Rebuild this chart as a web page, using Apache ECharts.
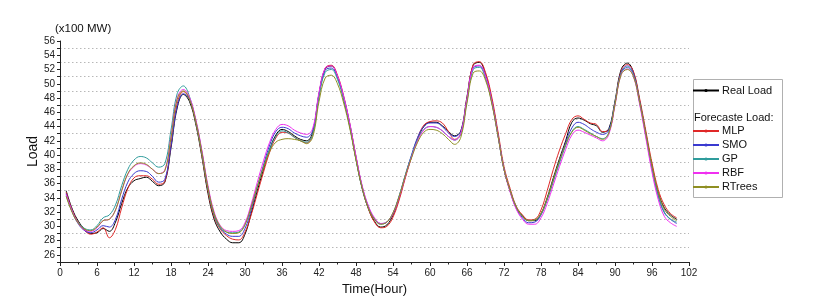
<!DOCTYPE html>
<html><head><meta charset="utf-8">
<script src="https://cdn.jsdelivr.net/npm/echarts@6/dist/echarts.min.js"></script>
<style>html,body{margin:0;padding:0;background:#fff}#c{width:813px;height:306px}</style>
</head><body><div id="c"></div>
<script>
const hours = Array.from({length: 100}, (_, i) => i + 1);
const xTicks = [0,6,12,18,24,30,36,42,48,54,60,66,72,78,84,90,96,102];
const yTicks = [26,28,30,32,34,36,38,40,42,44,46,48,50,52,54,56];

const realLoad = [35.0,32.4,30.7,29.6,29.0,29.1,29.7,29.3,30.6,33.2,35.4,36.4,36.7,36.9,36.3,35.7,36.2,41.0,46.6,48.5,
47.5,44.4,39.8,34.6,31.0,29.2,28.2,27.7,27.7,28.9,31.8,35.0,38.0,40.8,42.8,43.6,43.3,42.7,42.2,42.0,
43.3,48.6,52.1,52.5,51.0,47.9,44.0,39.4,35.3,32.5,30.7,29.9,30.2,31.6,34.0,37.0,39.8,42.3,44.0,44.6,
44.6,44.1,43.3,42.7,43.4,48.2,52.6,53.0,51.3,47.8,43.0,38.0,35.0,32.6,31.5,30.8,30.8,31.8,34.0,36.8,
39.5,42.0,44.6,45.2,44.9,44.4,44.1,43.2,43.7,47.6,52.0,52.9,51.6,47.6,43.0,38.5,34.8,32.6,31.6,31.0];

const mlp = [34.8,32.2,30.5,29.4,28.9,29.2,29.8,28.4,29.6,32.6,35.3,36.8,37.1,37.1,36.6,35.9,36.3,41.5,47.2,48.9,
47.9,44.7,40.0,34.9,31.3,29.6,28.7,28.2,28.1,29.2,31.6,34.6,37.6,40.4,42.4,43.2,43.1,42.5,42.0,41.7,
43.0,48.4,52.2,52.6,51.2,48.3,44.4,39.8,35.5,32.5,30.6,29.8,30.0,31.3,33.7,36.8,39.7,42.4,44.2,44.7,
44.8,44.5,43.3,42.2,43.0,48.0,52.7,53.1,51.6,48.2,43.4,38.4,35.3,32.8,31.6,30.9,31.0,32.3,35.0,38.0,
40.7,43.0,45.0,45.5,45.0,44.5,44.3,43.3,43.5,47.3,51.8,52.7,51.7,47.9,43.4,38.9,35.2,33.0,31.8,31.2];

const smo = [34.6,32.0,30.3,29.4,29.1,29.5,30.1,29.9,31.0,33.8,36.2,37.4,37.8,37.7,37.0,36.2,36.6,41.3,46.8,48.6,
47.8,44.9,40.5,35.4,31.7,29.8,28.9,28.6,28.6,29.7,32.3,35.5,38.6,41.4,43.3,43.9,43.7,43.1,42.7,42.5,
43.5,48.5,51.9,52.2,50.9,48.1,44.3,39.7,35.6,32.8,31.1,30.4,30.6,31.8,34.2,37.2,40.0,42.5,44.0,44.5,
44.5,44.0,43.1,42.6,43.3,47.8,52.2,52.5,51.0,47.6,42.9,38.0,34.9,32.5,31.2,30.5,30.6,31.6,33.8,36.5,
39.2,41.7,43.8,44.6,44.3,43.7,43.2,42.9,43.5,47.3,51.6,52.5,51.4,47.5,42.9,38.2,34.4,32.0,31.0,30.4];

const gp = [34.3,32.0,30.5,29.7,29.5,30.1,31.2,31.6,33.0,35.7,38.0,39.3,39.8,39.6,38.9,38.3,38.8,43.5,48.6,49.7,
48.2,44.8,40.2,35.2,31.6,29.8,29.2,29.1,29.2,30.3,32.8,35.6,38.3,40.8,42.6,43.4,43.1,42.5,42.0,41.8,
43.0,48.2,51.6,52.0,50.6,47.8,44.0,39.4,35.4,32.6,31.0,30.3,30.6,31.9,34.3,37.2,39.9,42.2,43.6,44.0,
43.9,43.4,42.6,42.1,43.0,47.6,52.0,52.3,50.8,47.4,42.8,38.0,35.0,32.7,31.4,30.8,30.9,31.7,33.7,36.3,
38.9,41.3,43.3,44.0,43.6,43.1,42.6,42.3,43.2,47.3,51.5,52.3,51.2,47.3,42.7,38.0,34.2,31.9,31.0,30.6];

const rbf = [34.5,32.1,30.4,29.5,29.3,29.8,30.8,31.0,32.3,35.0,37.3,38.4,38.8,38.6,38.0,37.4,37.9,42.6,48.0,49.2,
48.1,45.1,40.7,35.7,32.0,30.1,29.4,29.3,29.4,30.5,33.1,36.2,39.2,41.8,43.6,44.3,44.1,43.5,43.1,42.9,
43.8,48.8,52.2,52.5,51.1,48.2,44.4,39.8,35.7,32.9,31.2,30.4,30.6,31.8,34.1,37.0,39.7,42.0,43.5,44.0,
43.9,43.4,42.6,42.1,43.1,47.9,52.3,52.6,51.1,47.6,42.9,38.0,34.8,32.4,31.0,30.3,30.3,31.2,33.2,35.8,
38.4,40.8,42.8,43.5,43.2,42.8,42.4,42.0,42.9,47.0,51.3,52.1,51.0,47.1,42.4,37.6,33.8,31.4,30.5,30.0];

const rtrees = [34.2,31.9,30.4,29.6,29.4,29.9,30.8,31.0,32.3,35.0,37.4,38.5,38.9,38.7,38.0,37.4,37.8,42.4,47.8,49.0,
47.8,44.8,40.4,35.4,31.8,30.0,29.2,29.0,29.1,30.2,32.7,35.6,38.3,40.5,41.8,42.2,42.3,42.2,42.0,41.6,
42.6,47.5,50.8,51.2,50.0,47.3,43.7,39.3,35.4,32.6,31.0,30.3,30.6,31.9,34.2,37.1,39.6,41.8,43.2,43.6,
43.5,43.0,42.2,41.5,42.5,47.3,51.5,51.8,50.5,47.3,42.8,38.0,35.0,32.7,31.4,30.8,30.9,31.8,33.9,36.6,
39.2,41.5,43.2,43.9,43.5,43.0,42.6,42.2,43.1,47.1,51.3,52.0,51.0,47.4,43.0,38.5,34.8,32.4,31.4,30.8];

const seriesNames = ['Real Load','MLP','SMO','GP','RBF','RTrees'];
const seriesValues = [realLoad, mlp, smo, gp, rbf, rtrees];
const seriesColors = ['#000000','#e02828','#3a3ad0','#2f9c9c','#f030f0','#8f8f22'];

const chart = echarts.init(document.getElementById('c'), null, {renderer: 'canvas'});
const fontFam = 'Arial, "Liberation Sans", sans-serif';

const series = seriesNames.map((n, k) => ({
  name: n, type: 'line', smooth: 0.4,
  data: hours.map((h, i) => [h, seriesValues[k][i]]),
  showSymbol: false, symbol: 'circle', symbolSize: 2,
  lineStyle: {width: 1, color: seriesColors[k]},
  itemStyle: {color: seriesColors[k]},
  emphasis: {disabled: true}, animation: false
}));

const legendText = {fontSize: 11, lineHeight: 13, color: '#111', fontFamily: fontFam, padding: [0, 0, 0, -2]};

chart.setOption({
  animation: false,
  backgroundColor: '#fff',
  textStyle: {fontFamily: fontFam},
  grid: {left: 60, right: 124, top: 41, bottom: 44},
  xAxis: {
    type: 'value', min: 0, max: 102, interval: 6,
    name: 'Time(Hour)', nameLocation: 'middle', nameGap: 20,
    nameTextStyle: {fontSize: 13, color: '#111', fontFamily: fontFam},
    axisLine: {lineStyle: {color: '#222', width: 1}},
    axisTick: {show: true, inside: false, length: 4, lineStyle: {color: '#222'}},
    minorTick: {show: true, splitNumber: 2, length: 2.5, lineStyle: {color: '#222'}},
    axisLabel: {fontSize: 10, color: '#222', margin: 6,
      formatter: v => xTicks.indexOf(v) >= 0 ? String(v) : ''},
    splitLine: {show: false}
  },
  yAxis: [{
    type: 'value', min: 25, max: 56, interval: 1,
    name: 'Load', nameLocation: 'middle', nameGap: 20, nameRotate: 90, nameMoveOverlap: false,
    nameTextStyle: {fontSize: 14, color: '#111', fontFamily: fontFam},
    axisLine: {show: true, lineStyle: {color: '#222', width: 1}},
    axisTick: {show: true, inside: false, length: 3, lineStyle: {color: '#222'}},
    axisLabel: {fontSize: 10, color: '#222', margin: 5,
      formatter: v => yTicks.indexOf(v) >= 0 ? String(v) : ''},
    splitLine: {show: false}
  }, {
    type: 'value', min: 25, max: 56, interval: 2, position: 'left',
    axisLine: {show: false}, axisTick: {show: false}, axisLabel: {show: false},
    splitLine: {show: true, showMinLine: false, showMaxLine: false,
      lineStyle: {color: '#b8b8b8', type: [1.5, 2.5], width: 1}}
  }],
  legend: [{
    data: ['Real Load'], orient: 'vertical', left: 692, top: 84, padding: 0,
    itemWidth: 26, itemHeight: 4, itemGap: 1,
    textStyle: legendText, selectedMode: false
  }, {
    data: ['MLP','SMO','GP','RBF','RTrees'], orient: 'vertical', left: 692, top: 124.5, padding: 0,
    itemWidth: 26, itemHeight: 4, itemGap: 1,
    textStyle: legendText, selectedMode: false
  }],
  graphic: [
    {type: 'rect', left: 691, top: 77, shape: {width: 89, height: 118},
     style: {fill: 'none', stroke: '#b0b0b0', lineWidth: 1}, silent: true},
    {type: 'text', left: 694, top: 112, style: {text: 'Forecaste Load:', fontSize: 11, fill: '#111', fontFamily: fontFam}},
    {type: 'text', left: 55, top: 23, style: {text: '(x100 MW)', fontSize: 11.5, fill: '#111', fontFamily: fontFam}}
  ],
  series: series
});
</script></body></html>
